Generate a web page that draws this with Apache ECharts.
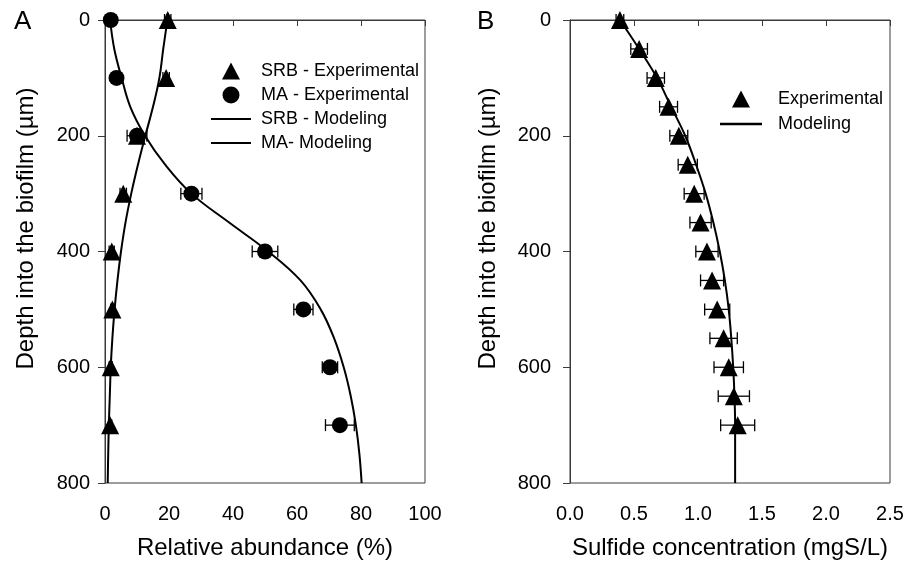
<!DOCTYPE html>
<html lang="en">
<head>
    <meta charset="UTF-8">
    <title>Biofilm profiles</title>
    <script src="https://cdn.jsdelivr.net/npm/echarts@6/dist/echarts.min.js"></script>
    <style type="text/css">
        body{ margin:0; background:#fff; }
    </style>
</head>
<body>
<div id="main" style="width: 907px;height:563px;"></div>
<script type="text/javascript">
    // panel A - relative abundance
    var depthA = [0, 100, 200, 300, 400, 500, 600, 700];
    var srbExp = [19.6, 19.1, 10, 5.7, 2.1, 2.3, 1.8, 1.6];
    var srbErr = [1, 1, 0, 1, 0.8, 0.5, 0.5, 0.5];
    var maExp = [1.8, 3.6, 10, 27, 50, 62, 70.3, 73.4];
    var maErr = [0, 0, 3.1, 3.3, 4, 3, 2.4, 4.5];

    var modelDepthA = [0, 50, 100, 150, 200, 250, 300, 350, 400, 450, 500, 550, 600, 650, 700, 750, 800];
    var srbModel = [19.5, 18.2, 17.0, 15.0, 12.6, 10.3, 8.2, 6.4, 5.0, 3.9, 3.0, 2.3, 1.8, 1.5, 1.2, 1.0, 0.85];
    var maModel = [1.6, 2.9, 5.2, 7.9, 12.5, 18.8, 27, 38.8, 51.0, 61.1, 67.4, 71.6, 74.6, 76.8, 78.4, 79.5, 80.2];

    // panel B - sulfide
    var depthB = [0, 50, 100, 150, 200, 250, 300, 350, 400, 450, 500, 550, 600, 650, 700];
    var sulfExp = [0.39, 0.54, 0.67, 0.77, 0.85, 0.92, 0.97, 1.02, 1.07, 1.11, 1.15, 1.20, 1.24, 1.28, 1.31];
    var sulfErr = [0.03, 0.065, 0.068, 0.07, 0.07, 0.075, 0.078, 0.083, 0.087, 0.09, 0.098, 0.107, 0.115, 0.122, 0.133];
    var modelDepthB = [0, 50, 100, 150, 200, 250, 300, 350, 400, 450, 500, 550, 600, 650, 700, 750, 800];
    var sulfModel = [0.39, 0.54, 0.68, 0.79, 0.90, 0.985, 1.06, 1.12, 1.17, 1.21, 1.24, 1.26, 1.275, 1.285, 1.29, 1.29, 1.29];

    var font = "'Liberation Sans', Arial, sans-serif";
    var triIcon = 'path://M9,0L18,17L0,17Z';
    var lineIcon = 'path://M0,0H40V2.2H0Z';

    function pairs(xs, ys) {
        var out = [];
        for (var i = 0; i < xs.length; i++) out.push([xs[i], ys[i]]);
        return out;
    }
    function triples(xs, ys, es) {
        var out = [];
        for (var i = 0; i < xs.length; i++) out.push([xs[i], ys[i], es[i]]);
        return out;
    }

    function errRender(params, api) {
        var x = api.value(0), y = api.value(1), e = api.value(2);
        if (!e) return;
        var lo = api.coord([x - e, y]);
        var hi = api.coord([x + e, y]);
        var cap = 6;
        var st = { stroke: '#000', lineWidth: 1.3 };
        return {
            type: 'group',
            children: [
                { type: 'line', shape: { x1: lo[0], y1: lo[1], x2: hi[0], y2: hi[1] }, style: st },
                { type: 'line', shape: { x1: lo[0], y1: lo[1] - cap, x2: lo[0], y2: lo[1] + cap }, style: st },
                { type: 'line', shape: { x1: hi[0], y1: hi[1] - cap, x2: hi[0], y2: hi[1] + cap }, style: st }
            ]
        };
    }

    var axisCol = '#3a3a3a';
    function xAxisOf(idx, max, interval, name, fmt) {
        return {
            gridIndex: idx, type: 'value', min: 0, max: max, interval: interval,
            name: name, nameLocation: 'middle', nameGap: 53,
            nameTextStyle: { fontSize: 24, color: '#000', fontFamily: font },
            axisLine: { show: true, lineStyle: { color: axisCol, width: 1 } },
            axisTick: { show: true, length: 6, lineStyle: { color: axisCol } },
            axisLabel: { fontSize: 20, color: '#000', fontFamily: font, margin: 21, formatter: fmt },
            splitLine: { show: false }
        };
    }
    function yAxisOf(idx, margin, gap) {
        return {
            gridIndex: idx, type: 'value', min: 0, max: 800, interval: 200, inverse: true,
            name: 'Depth into the biofilm (\u00b5m)', nameLocation: 'middle', nameGap: gap,
            nameTextStyle: { fontSize: 24, color: '#000', fontFamily: font, padding: [0, 0, 0, 46] },
            axisLine: { show: true, lineStyle: { color: axisCol, width: 1 } },
            axisTick: { show: true, length: 7, lineStyle: { color: axisCol } },
            axisLabel: { fontSize: 20, color: '#000', fontFamily: font, margin: margin },
            splitLine: { show: false }
        };
    }

    var myChart = echarts.init(document.getElementById('main'));
    var option = {
        animation: false,
        backgroundColor: '#fff',
        title: [
            { text: 'A', left: 9, top: 4, textStyle: { fontSize: 26, fontWeight: 'normal', color: '#000', fontFamily: font } },
            { text: 'B', left: 472, top: 4, textStyle: { fontSize: 26, fontWeight: 'normal', color: '#000', fontFamily: font } }
        ],
        grid: [
            { left: 105, right: 482, top: 20, bottom: 80, outerBoundsMode: 'none', containLabel: false,
              show: true, borderColor: axisCol, borderWidth: 1, backgroundColor: 'transparent' },
            { left: 570, right: 17, top: 20, bottom: 80, outerBoundsMode: 'none', containLabel: false,
              show: true, borderColor: axisCol, borderWidth: 1, backgroundColor: 'transparent' }
        ],
        xAxis: [
            xAxisOf(0, 100, 20, 'Relative abundance (%)'),
            xAxisOf(1, 2.5, 0.5, 'Sulfide concentration (mgS/L)', function (v) { return v.toFixed(1); })
        ],
        yAxis: [
            yAxisOf(0, 15, 67),
            yAxisOf(1, 19, 70)
        ],
        legend: [
            {
                orient: 'vertical', left: 206, top: 57, itemWidth: 40, itemHeight: 17, itemGap: 6,
                textStyle: { fontSize: 18, color: '#000', fontFamily: font, padding: [0, 0, 0, 5] },
                data: [
                    { name: 'SRB - Experimental', icon: triIcon },
                    { name: 'MA - Experimental', icon: 'circle' },
                    { name: 'SRB - Modeling', icon: lineIcon },
                    { name: 'MA- Modeling', icon: lineIcon }
                ]
            },
            {
                orient: 'vertical', left: 715, top: 85, itemWidth: 42, itemHeight: 17, itemGap: 7,
                textStyle: { fontSize: 18, color: '#000', fontFamily: font, padding: [0, 0, 0, 11] },
                data: [
                    { name: 'Experimental', icon: triIcon },
                    { name: 'Modeling', icon: lineIcon }
                ]
            }
        ],
        series: [
            {
                name: 'SRB - Modeling', type: 'line', xAxisIndex: 0, yAxisIndex: 0,
                data: pairs(srbModel, modelDepthA), smooth: 0.4, symbol: 'none',
                lineStyle: { color: '#000', width: 2 }, itemStyle: { color: '#000' }, z: 2
            },
            {
                name: 'MA- Modeling', type: 'line', xAxisIndex: 0, yAxisIndex: 0,
                data: pairs(maModel, modelDepthA), smooth: 0.4, symbol: 'none',
                lineStyle: { color: '#000', width: 2 }, itemStyle: { color: '#000' }, z: 2
            },
            {
                type: 'custom', xAxisIndex: 0, yAxisIndex: 0, renderItem: errRender,
                data: triples(srbExp, depthA, srbErr), encode: { x: 0, y: 1 }, clip: false, z: 3
            },
            {
                type: 'custom', xAxisIndex: 0, yAxisIndex: 0, renderItem: errRender,
                data: triples(maExp, depthA, maErr), encode: { x: 0, y: 1 }, clip: false, z: 3
            },
            {
                name: 'SRB - Experimental', type: 'scatter', xAxisIndex: 0, yAxisIndex: 0,
                data: pairs(srbExp, depthA), symbol: 'triangle', symbolSize: 18,
                itemStyle: { color: '#000', opacity: 1 }, clip: false, z: 4
            },
            {
                name: 'MA - Experimental', type: 'scatter', xAxisIndex: 0, yAxisIndex: 0,
                data: pairs(maExp, depthA), symbol: 'circle', symbolSize: 16,
                itemStyle: { color: '#000', opacity: 1 }, clip: false, z: 5
            },
            {
                name: 'Modeling', type: 'line', xAxisIndex: 1, yAxisIndex: 1,
                data: pairs(sulfModel, modelDepthB), smooth: 0.4, symbol: 'none',
                lineStyle: { color: '#000', width: 2 }, itemStyle: { color: '#000' }, z: 2
            },
            {
                type: 'custom', xAxisIndex: 1, yAxisIndex: 1, renderItem: errRender,
                data: triples(sulfExp, depthB, sulfErr), encode: { x: 0, y: 1 }, clip: false, z: 3
            },
            {
                name: 'Experimental', type: 'scatter', xAxisIndex: 1, yAxisIndex: 1,
                data: pairs(sulfExp, depthB), symbol: 'triangle', symbolSize: 18,
                itemStyle: { color: '#000', opacity: 1 }, clip: false, z: 4
            }
        ]
    };
    myChart.setOption(option);
</script>
</body>
</html>
